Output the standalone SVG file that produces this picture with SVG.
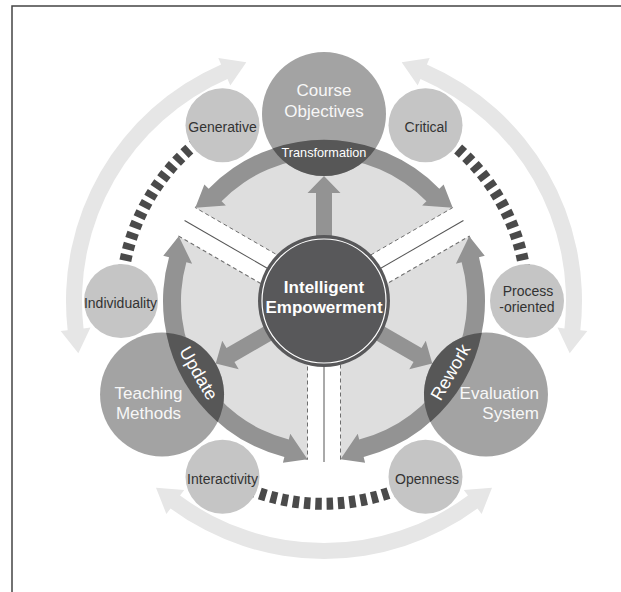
<svg xmlns="http://www.w3.org/2000/svg" width="621" height="592" viewBox="0 0 621 592">
  <style>
    .lbl { font-family: "Liberation Sans", Arial, sans-serif; text-anchor: middle; }
    .small { fill: #c5c5c5; }
    .small-t { font-size: 14px; fill: #333333; }
    .big { fill: #a3a3a3; }
    .big-t { font-size: 17px; fill: #f7f7f7; }
    .lens { fill: #575757; }
    .lens-t { fill: #ffffff; }
    .sector { fill: #dedede; stroke: #6e6e6e; stroke-width: 1; stroke-dasharray: 4 3; }
    .ring { fill: #939393; }
    .outer { fill: #e6e6e6; }
    .dash { fill: none; stroke: #4a4a4a; stroke-width: 12; stroke-dasharray: 6.5 4.8; }
    .spoke { stroke: #555555; stroke-width: 1; }
  </style>
  <defs>
    <!-- one outer double arrow, centred on the bottom (90 deg) -->
    <path id="outerArc" class="outer" d="M170.54,508.40 A258,258 0 0 0 477.46,508.40 L481.63,514.02 L492.00,487.69 L463.78,489.91 L467.95,495.53 A242,242 0 0 1 180.05,495.53 L184.22,489.91 L156.00,487.69 L166.37,514.02 Z"/>
    <!-- dashed link between two neighbouring small circles -->
    <path id="dashArc" class="dash" d="M399.05,489.22 A203,203 0 0 1 247.95,489.22"/>
    <!-- light sector between two white spokes (top one) -->
    <path id="sector" class="sector" d="M324,281.95 L195.30,207.64 A159,159 0 0 1 452.70,207.64 Z"/>
    <!-- inner double-headed ring arrow (top one) -->
    <path id="ringArrow" class="ring" d="M208.67,188.65 A161,161 0 0 1 439.33,188.65 L443.62,184.47 L452.70,207.64 L422.13,205.40 L426.43,201.21 A143,143 0 0 0 221.57,201.21 L225.87,205.40 L195.30,207.64 L204.38,184.47 Z"/>
    <!-- radial arrow from the hub (pointing up) -->
    <path id="radial" class="ring" d="M316,250 L316,193 L307.5,193 L324,176 L340.5,193 L332,193 L332,250 Z"/>
    <!-- overlap of a main circle with the ring (top one) -->
    <path id="lens" class="lens" d="M272.47,148.47 A161,161 0 0 1 375.53,148.47 A62,62 0 0 1 272.47,148.47 Z"/>
  </defs>

  <!-- frame -->
  <rect x="12" y="6" width="700" height="700" fill="none" stroke="#444444" stroke-width="1.5"/>

  <!-- outer light arrows -->
  <g id="outer-arrows">
    <use href="#outerArc"/>
    <use href="#outerArc" transform="rotate(120 324 301)"/>
    <use href="#outerArc" transform="rotate(240 324 301)"/>
  </g>

  <!-- dashed links between small circles -->
  <g id="dashed-links">
    <use href="#dashArc"/>
    <use href="#dashArc" transform="rotate(120 324 301)"/>
    <use href="#dashArc" transform="rotate(240 324 301)"/>
  </g>

  <!-- small circles -->
  <g id="generative"><circle class="small" cx="222.5" cy="125.2" r="37"/><text class="lbl small-t" x="222.5" y="131.5">Generative</text></g>
  <g id="critical"><circle class="small" cx="425.5" cy="125.2" r="37"/><text class="lbl small-t" x="426" y="131.5">Critical</text></g>
  <g id="individuality"><circle class="small" cx="121" cy="301" r="37"/><text class="lbl small-t" x="120.5" y="308">Individuality</text></g>
  <g id="process-oriented"><circle class="small" cx="527" cy="301" r="37"/><text class="lbl small-t" x="528" y="296">Process</text><text class="lbl small-t" x="527" y="312">-oriented</text></g>
  <g id="interactivity"><circle class="small" cx="222.5" cy="476.8" r="37"/><text class="lbl small-t" x="222.5" y="484">Interactivity</text></g>
  <g id="openness"><circle class="small" cx="425.5" cy="476.8" r="37"/><text class="lbl small-t" x="427" y="484">Openness</text></g>

  <!-- light disc split into three sectors by white spokes -->
  <g id="sectors">
    <use href="#sector"/>
    <use href="#sector" transform="rotate(120 324 301)"/>
    <use href="#sector" transform="rotate(240 324 301)"/>
  </g>
  <g id="spokes">
    <line class="spoke" x1="324" y1="301" x2="324" y2="462"/>
    <line class="spoke" x1="324" y1="301" x2="324" y2="462" transform="rotate(120 324 301)"/>
    <line class="spoke" x1="324" y1="301" x2="324" y2="462" transform="rotate(240 324 301)"/>
  </g>

  <!-- main circles -->
  <g id="course-objectives"><circle class="big" cx="324" cy="114" r="62"/><text class="lbl big-t" x="324" y="96">Course</text><text class="lbl big-t" x="324" y="117">Objectives</text></g>
  <g id="teaching-methods"><circle class="big" cx="162.05" cy="394.5" r="62"/><text class="lbl big-t" x="148.5" y="399">Teaching</text><text class="lbl big-t" x="148.5" y="419">Methods</text></g>
  <g id="evaluation-system"><circle class="big" cx="485.95" cy="394.5" r="62"/><text class="lbl big-t" x="539" y="399" style="text-anchor:end">Evaluation</text><text class="lbl big-t" x="539" y="419" style="text-anchor:end">System</text></g>

  <!-- connectors: ring arrows and radial arrows -->
  <g id="connectors">
    <use href="#ringArrow"/>
    <use href="#ringArrow" transform="rotate(120 324 301)"/>
    <use href="#ringArrow" transform="rotate(240 324 301)"/>
    <use href="#radial"/>
    <use href="#radial" transform="rotate(120 324 301)"/>
    <use href="#radial" transform="rotate(240 324 301)"/>
  </g>

  <!-- dark overlaps with labels -->
  <g id="transformation"><use href="#lens"/><text class="lbl lens-t" x="324" y="156.5" font-size="12.7">Transformation</text></g>
  <g id="update"><use href="#lens" transform="rotate(240 324 301)"/><text class="lbl lens-t" font-size="18" transform="translate(199 373) rotate(60)" y="6.5">Update</text></g>
  <g id="rework"><use href="#lens" transform="rotate(120 324 301)"/><text class="lbl lens-t" font-size="18" transform="translate(450 372) rotate(-60)" y="6.5">Rework</text></g>

  <!-- hub -->
  <g id="intelligent-empowerment">
    <circle cx="324" cy="301" r="66" fill="#58585a"/>
    <circle cx="324" cy="301" r="62" fill="none" stroke="#ffffff" stroke-width="1.2"/>
    <text class="lbl" x="324" y="293" font-size="17" font-weight="bold" fill="#ffffff">Intelligent</text>
    <text class="lbl" x="324" y="313" font-size="17" font-weight="bold" fill="#ffffff">Empowerment</text>
  </g>
</svg>
